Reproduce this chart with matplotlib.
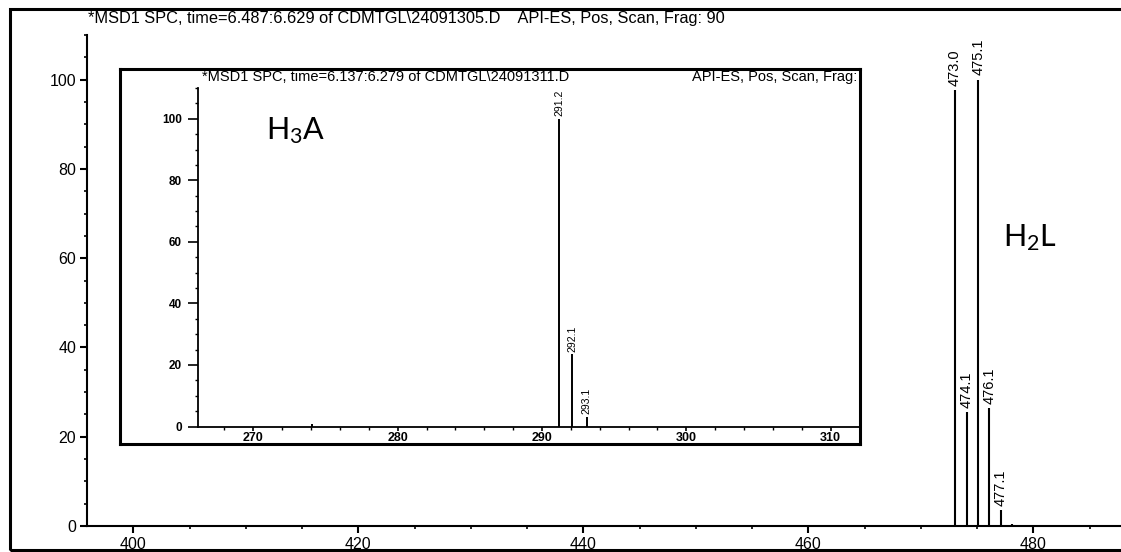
import numpy as np
import matplotlib.pyplot as plt
from matplotlib.patches import Rectangle
from matplotlib.ticker import MultipleLocator

plt.rcParams['font.family'] = ['Liberation Sans', 'DejaVu Sans']
plt.rcParams['mathtext.fontset'] = 'custom'
plt.rcParams['mathtext.rm'] = 'Lato'

# H2L spectrum: m/z and relative abundance (%)
mz_main = [473.0, 474.1, 475.1, 476.1, 477.1, 478.1]
ab_main = [97.6, 25.5, 100.0, 26.4, 3.6, 0.5]
lab_main = ['473.0', '474.1', '475.1', '476.1', '477.1', '']

# H3A spectrum (inset)
mz_ins = [274.1, 291.2, 292.1, 293.1]
ab_ins = [0.8, 100.0, 23.4, 3.0]
lab_ins = ['', '291.2', '292.1', '293.1']

title_main = r'*MSD1 SPC, time=6.487:6.629 of CDMTGL\24091305.D    API-ES, Pos, Scan, Frag: 90'
title_ins_l = r'*MSD1 SPC, time=6.137:6.279 of CDMTGL\24091311.D'
title_ins_r = 'API-ES, Pos, Scan, Frag:'

W, H = 1121, 552
fig = plt.figure(figsize=(W / 100, H / 100), dpi=100)


def fx(px):
    return px / W


def fy(py):
    return 1 - py / H


# outer frame
fig.patches.append(Rectangle((fx(10), fy(550)), fx(1130) - fx(10), fy(9) - fy(550),
                             transform=fig.transFigure, fill=False, lw=2.2,
                             edgecolor='k', zorder=0))

# ---- main spectrum ----
ax = fig.add_axes([fx(87.3), fy(526), 1 - fx(87.3), fy(35) - fy(526)])
ax.vlines(mz_main, 0, ab_main, color='k', lw=1.5)
for x, y, s in zip(mz_main, ab_main, lab_main):
    if s:
        ax.annotate(s, (x, y), xytext=(0, 3), textcoords='offset points',
                    rotation=90, ha='center', va='bottom', fontsize=10.5)
ax.set_xlim(395.9, 487.8)
ax.set_ylim(0, 110)
ax.xaxis.set_major_locator(MultipleLocator(20))
ax.xaxis.set_minor_locator(MultipleLocator(5))
ax.yaxis.set_minor_locator(MultipleLocator(5))
ax.set_yticks([0, 20, 40, 60, 80, 100])
for sp in ['top', 'right']:
    ax.spines[sp].set_visible(False)
for sp in ['left', 'bottom']:
    ax.spines[sp].set_linewidth(1.5)
ax.tick_params(which='major', length=5, width=1.5, labelsize=11.5, pad=3)
ax.tick_params(which='minor', length=2.2, width=1.2)
ax.text(479.7, 64.5, r'$\mathrm{H_2L}$', fontsize=22, ha='center', va='center')
fig.text(fx(88), fy(19), title_main, fontsize=11.8, va='center', ha='left')

# ---- inset: H3A ----
box = fig.add_axes([fx(120), fy(444), fx(860) - fx(120), fy(69) - fy(444)])
box.set_xticks([])
box.set_yticks([])
for sp in box.spines.values():
    sp.set_linewidth(2.2)

ins = fig.add_axes([fx(198.3), fy(426.5), fx(860) - fx(198.3), fy(88) - fy(426.5)])
ins.patch.set_alpha(0)
ins.vlines(mz_ins, 0, ab_ins, color='k', lw=1.4)
for x, y, s in zip(mz_ins, ab_ins, lab_ins):
    if s:
        ins.annotate(s, (x, y), xytext=(0, 2), textcoords='offset points',
                     rotation=90, ha='center', va='bottom', fontsize=7.5)
ins.set_xlim(266.19, 312.03)
ins.set_ylim(0, 110)
ins.set_xticks([270, 280, 290, 300, 310])
ins.xaxis.set_minor_locator(MultipleLocator(2))
ins.set_yticks([0, 20, 40, 60, 80, 100])
ins.yaxis.set_minor_locator(MultipleLocator(5))
for sp in ['top', 'right']:
    ins.spines[sp].set_visible(False)
for sp in ['left', 'bottom']:
    ins.spines[sp].set_linewidth(1.3)
ins.tick_params(axis='y', which='major', length=7, width=1.2, labelsize=8.5, pad=5)
ins.tick_params(axis='y', which='minor', length=2.2, width=1)
ins.tick_params(axis='x', which='major', length=3, width=1.2, labelsize=9, pad=1)
ins.tick_params(axis='x', which='minor', length=2, width=1)
for lbl in ins.get_xticklabels() + ins.get_yticklabels():
    lbl.set_fontweight('bold')
ins.text(270.9, 96, r'$\mathrm{H_3A}$', fontsize=22, ha='left', va='center')
fig.text(fx(202), fy(77), title_ins_l, fontsize=10.5, va='center', ha='left')
fig.text(fx(857), fy(77), title_ins_r, fontsize=10.5, va='center', ha='right')

fig.savefig('out.png', dpi=100)
